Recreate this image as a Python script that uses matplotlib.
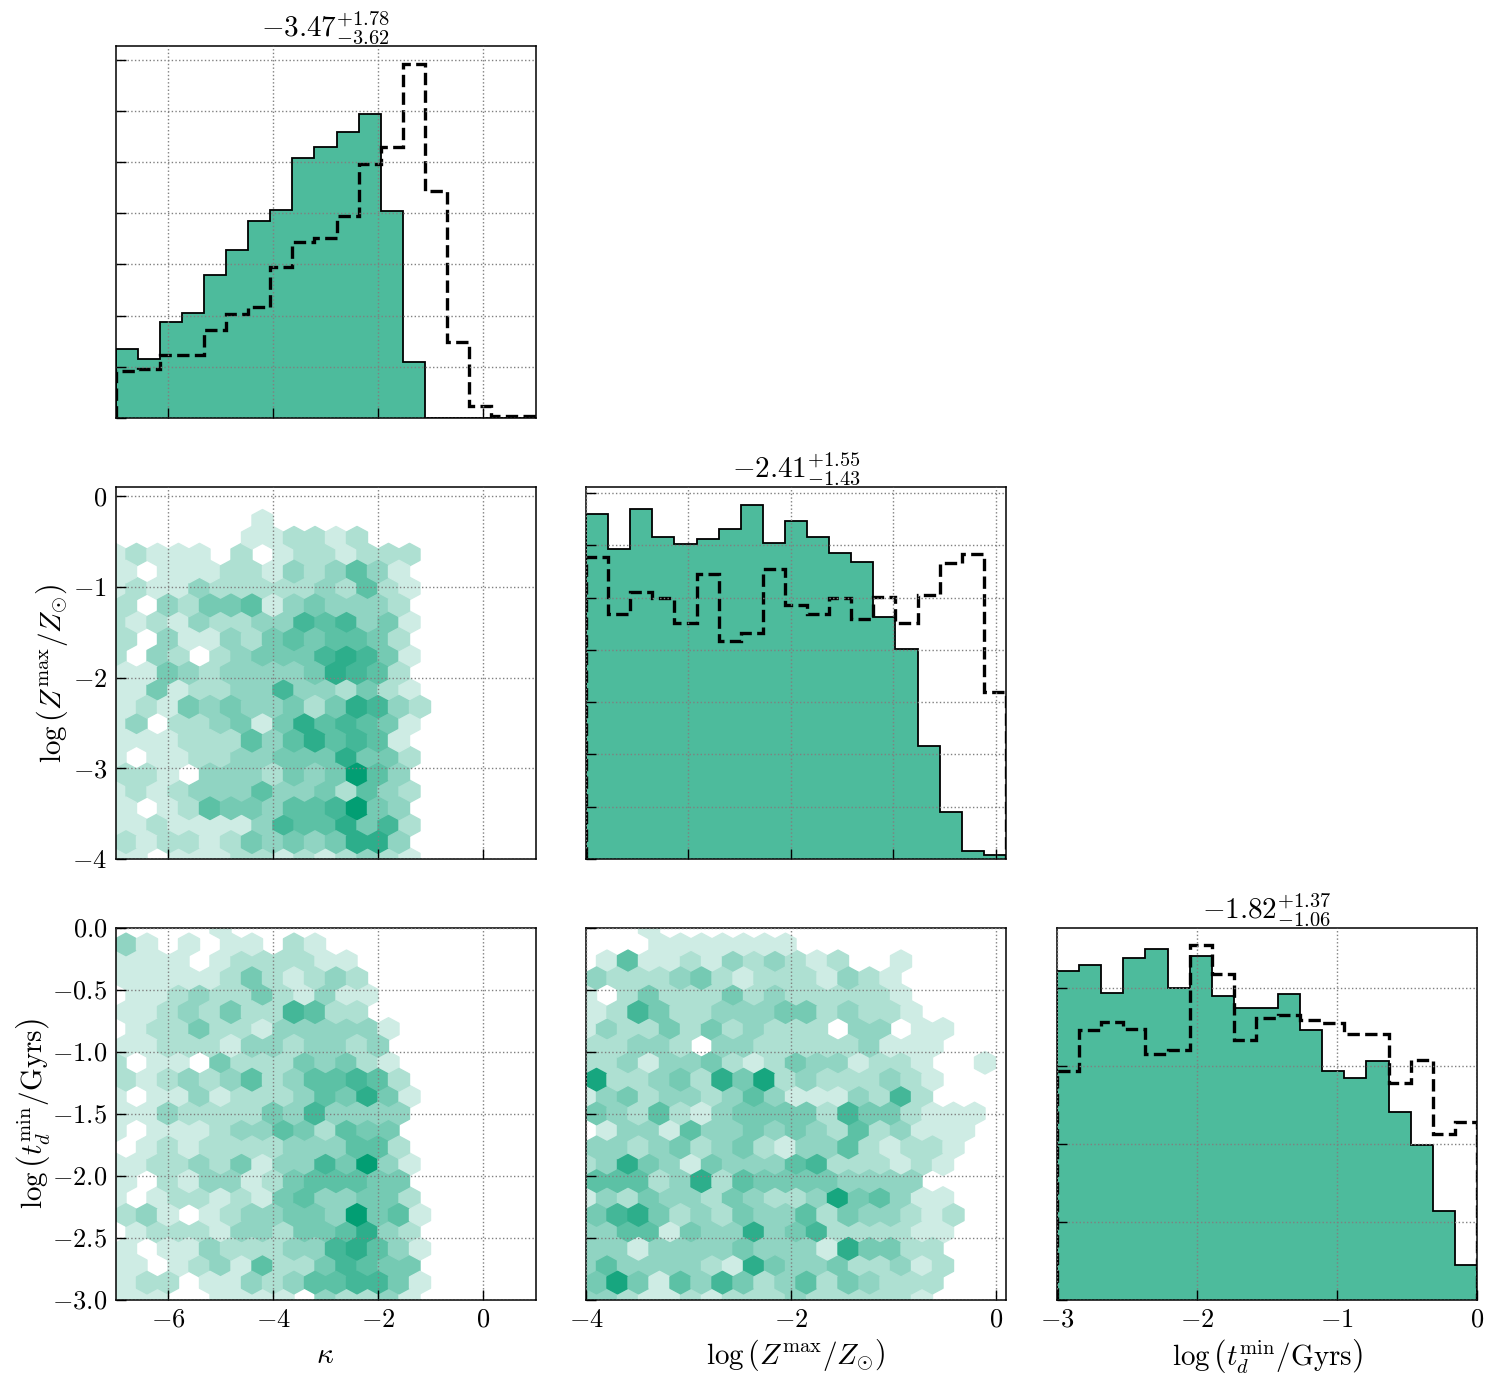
import numpy as np
import matplotlib
matplotlib.use("Agg")
import matplotlib.pyplot as plt
from matplotlib.colors import LinearSegmentedColormap, PowerNorm

# --- CONFIGURATION ---
plt.rcParams["font.family"] = "serif"
plt.rcParams["font.serif"] = ["cmr10", "DejaVu Serif"]
plt.rcParams["mathtext.fontset"] = "cm"
plt.rcParams["axes.formatter.use_mathtext"] = True

GREEN = "#029E73"
TICK_FS = 19
LABEL_FS = 21

# --- 1D histograms (relative heights) ---
kappa_range = (-7.0, 1.0)
logz_range = (-4.0, 0.1)
logt_range = (-3.0, 0.0)
n_bins = 19

kappa_post = [1.35, 1.16, 1.87, 2.06, 2.79, 3.29, 3.84, 4.06, 5.07, 5.29,
              5.58, 5.94, 4.05, 1.10, 0, 0, 0, 0, 0]
kappa_prior = [0.92, 0.95, 1.23, 1.23, 1.72, 2.03, 2.16, 2.95, 3.44, 3.52,
               3.94, 4.97, 5.29, 6.92, 4.43, 1.49, 0.23, 0.03, 0.03]

logz_post = [6.61, 5.94, 6.69, 6.16, 6.03, 6.13, 6.32, 6.78, 6.04, 6.47,
             6.16, 5.85, 5.69, 4.64, 4.02, 2.17, 0.89, 0.15, 0.08]
logz_prior = [5.77, 4.68, 5.11, 4.99, 4.52, 5.45, 4.18, 4.32, 5.55, 4.87,
              4.68, 4.99, 4.59, 5.02, 4.52, 5.05, 5.67, 5.83, 3.19]

logt_post = [4.22, 4.29, 3.94, 4.39, 4.50, 4.00, 4.41, 3.90, 3.74, 3.74,
             3.92, 3.46, 2.93, 2.85, 3.06, 2.41, 1.98, 1.14, 0.44]
logt_prior = [2.93, 3.46, 3.57, 3.48, 3.15, 3.21, 4.55, 4.18, 3.33, 3.62,
              3.65, 3.59, 3.55, 3.41, 3.41, 2.78, 3.07, 2.13, 2.28]

titles = [r"$-3.47^{+1.78}_{-3.62}$", r"$-2.41^{+1.55}_{-1.43}$", r"$-1.82^{+1.37}_{-1.06}$"]
lab_kappa = r"$\kappa$"
lab_logz = r"$\log\left(Z^{\rm max}/Z_{\odot}\right)$"
lab_logt = r"$\log\left(t_d^{\rm min}/{\rm Gyrs}\right)$"

# --- hexbin counts: one string per row of cells, top row first ---
# rows alternate between the 21-cell lattice and the 20-cell offset lattice
hex_kappa_logz = [
    "",
    "",
    "0000000100000",
    "00000011221200",
    "121110201221222",
    "10111221323531",
    "121132222232521",
    "20324451343332",
    "212132233656341",
    "20311324545542",
    "203202344467641",
    "11432333347652",
    "114122336332421",
    "121434334247632",
    "130223414756541",
    "11122253575651",
    "101122334447442",
    "22103332434953",
    "121233353342532",
    "10125443556943",
    "112111136557462",
    "21221243434773",
    "110111221212321",
]

hex_kappa_logt = [
    "000001",
    "3101011021",
    "111101222211",
    "111112421232",
    "0112322421311",
    "112324226522",
    "01224221333331",
    "1122213323323",
    "20110422243421",
    "21232352355652",
    "101131222354741",
    "11322224363333",
    "10111233542544",
    "01212222333552",
    "112232413364931",
    "10213312455544",
    "101221214533442",
    "231012334439451",
    "012221332445732",
    "101132223367531",
    "110123152246544",
    "122011323556641",
    "111001111032231",
]

hex_logz_logt = [
    "0001",
    "0001111111",
    "0151121323212001",
    "322234212221321",
    "1024222423222221",
    "1264223334423221",
    "132242423222033011",
    "22332033222223111",
    "22313342124331221001",
    "82234274823222321",
    "134233235311132620",
    "4325213444426442111",
    "0133153343432523111",
    "332342342133521221",
    "237431433356222121",
    "5552372544443333",
    "132433243223845311",
    "467423243352433212",
    "335514337346222211",
    "33133334333174422",
    "353333217433422312",
    "48415364235243222",
    "33211212223222221",
]


def hex_cells(rows, extent, nx=20):
    # centres of the matplotlib hexbin lattice for the given extent
    xmin, xmax, ymin, ymax = extent
    ny = int(nx / np.sqrt(3))
    sx = (xmax - xmin) / nx
    sy = (ymax - ymin) / ny
    xs, ys, cs = [], [], []
    for r, row in enumerate(rows[::-1]):
        shift = 0.5 * (r % 2)
        for i, ch in enumerate(row):
            if ch != "0":
                xs.append(xmin + (i + shift) * sx)
                ys.append(ymin + 0.5 * r * sy)
                cs.append(int(ch))
    return xs, ys, cs


def style_axes(ax, xticks, yticks, xlab=False, ylab=False):
    ax.set_xticks(xticks)
    ax.set_yticks(yticks)
    ax.grid(True, ls=":", color="0.5", lw=1.0)
    ax.set_axisbelow(False)
    ax.tick_params(direction="in", length=7, width=1, top=False, right=False,
                   labelsize=TICK_FS, labelbottom=xlab, labelleft=ylab, pad=6)
    for sp in ax.spines.values():
        sp.set_linewidth(1.1)


def draw_hist(ax, rng, post, prior):
    edges = np.linspace(rng[0], rng[1], n_bins + 1)
    ax.stairs(post, edges, baseline=0, fill=True, color=GREEN, alpha=0.7, lw=0)
    ax.stairs(post, edges, baseline=0, color="k", lw=1.3)
    ax.stairs(prior, edges, baseline=0, color="k", lw=2.4, ls="--")
    ax.set_xlim(rng)
    ax.set_ylim(0, 1.05 * max(max(post), max(prior)))


cmap = LinearSegmentedColormap.from_list("wg", ["white", GREEN])

def draw_hex(ax, rows, xr, yr):
    extent = (xr[0], xr[1], yr[0], yr[1])
    xs, ys, cs = hex_cells(rows, extent)
    ax.hexbin(xs, ys, C=cs, gridsize=20, extent=extent, reduce_C_function=np.sum,
              cmap=cmap, norm=PowerNorm(gamma=0.75, vmin=0, vmax=9))
    ax.set_xlim(xr)
    ax.set_ylim(yr)


# --- FIGURE ---
W, H = 1495, 1385
fig = plt.figure(figsize=(W / 100, H / 100), dpi=100)

def add_ax(left_px, top_px):
    return fig.add_axes([left_px / W, 1 - (top_px + 372) / H, 420 / W, 372 / H])

cols = [115.5, 586, 1057]
rows_top = [46, 487, 927.5]

# 1. kappa histogram
ax = add_ax(cols[0], rows_top[0])
draw_hist(ax, kappa_range, kappa_post, kappa_prior)
style_axes(ax, [-6, -4, -2, 0], range(0, 8))
ax.set_title(titles[0], fontsize=LABEL_FS, pad=1)

# 2. kappa vs logZ
ax = add_ax(cols[0], rows_top[1])
draw_hex(ax, hex_kappa_logz, kappa_range, logz_range)
style_axes(ax, [-6, -4, -2, 0], [0, -1, -2, -3, -4], ylab=True)
ax.set_ylabel(lab_logz, fontsize=LABEL_FS)
ax.yaxis.set_label_coords(-0.108, 0.5)

# 3. logZ histogram
ax = add_ax(cols[1], rows_top[1])
draw_hist(ax, logz_range, logz_post, logz_prior)
style_axes(ax, [-4, -3, -2, -1, 0], range(0, 8))
ax.set_title(titles[1], fontsize=LABEL_FS, pad=1)

# 4. kappa vs logt
ax = add_ax(cols[0], rows_top[2])
draw_hex(ax, hex_kappa_logt, kappa_range, logt_range)
style_axes(ax, [-6, -4, -2, 0], [0, -0.5, -1, -1.5, -2, -2.5, -3], xlab=True, ylab=True)
ax.set_yticklabels([r"$0.0$", r"$-0.5$", r"$-1.0$", r"$-1.5$", r"$-2.0$", r"$-2.5$", r"$-3.0$"])
ax.set_xlabel(lab_kappa, fontsize=LABEL_FS, labelpad=8)
ax.set_ylabel(lab_logt, fontsize=LABEL_FS)
ax.yaxis.set_label_coords(-0.15, 0.5)

# 5. logZ vs logt
ax = add_ax(cols[1], rows_top[2])
draw_hex(ax, hex_logz_logt, logz_range, logt_range)
style_axes(ax, [-4, -2, 0], [0, -0.5, -1, -1.5, -2, -2.5, -3], xlab=True)
ax.set_xlabel(lab_logz, fontsize=LABEL_FS)

# 6. logt histogram
ax = add_ax(cols[2], rows_top[2])
draw_hist(ax, logt_range, logt_post, logt_prior)
style_axes(ax, [-3, -2, -1, 0], range(0, 5), xlab=True)
ax.set_title(titles[2], fontsize=LABEL_FS, pad=1)
ax.set_xlabel(lab_logt, fontsize=LABEL_FS)

fig.savefig("out.png", dpi=100)
